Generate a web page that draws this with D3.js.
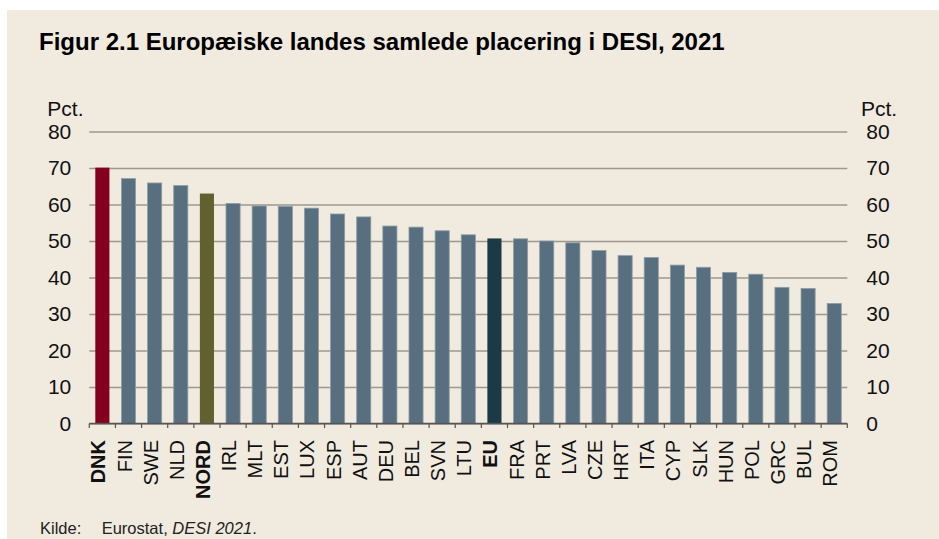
<!DOCTYPE html>
<html>
<head>
<meta charset="utf-8">
<script src="https://cdn.jsdelivr.net/npm/d3@7"></script>
<style>
  body { margin: 0; background: #fff; }
  svg { display: block; font-family: "Liberation Sans", Arial, sans-serif; }
</style>
</head>
<body>
<div id="chart"></div>
<script>
// DESI 2021, samlet score (pct.)
const countries = ["DNK", "FIN", "SWE", "NLD", "NORD", "IRL", "MLT", "EST", "LUX", "ESP",
  "AUT", "DEU", "BEL", "SVN", "LTU", "EU", "FRA", "PRT", "LVA", "CZE",
  "HRT", "ITA", "CYP", "SLK", "HUN", "POL", "GRC", "BUL", "ROM"];
const scores = [70.1, 67.1, 65.9, 65.2, 63.0, 60.3, 59.6, 59.5, 59.0, 57.4,
  56.6, 54.1, 53.8, 52.8, 51.7, 50.7, 50.6, 50.0, 49.5, 47.4,
  46.0, 45.5, 43.4, 42.8, 41.4, 40.9, 37.3, 37.0, 32.9];
const highlight = { DNK: "#85001f", NORD: "#636030", EU: "#1c3a45" };
const yTicks = [0, 10, 20, 30, 40, 50, 60, 70, 80];

const W = 939, H = 539;
const margin = { left: 89.3, right: 939 - 847.3, top: 131.5, bottom: 539 - 423.5 };

const svg = d3.select("#chart").append("svg")
  .attr("width", W)
  .attr("height", H);

// beige panel
svg.append("rect")
  .attr("x", 7).attr("y", 10)
  .attr("width", W - 7).attr("height", H - 10)
  .attr("fill", "#f0eadf");

svg.append("text")
  .attr("x", 39).attr("y", 49.5)
  .attr("font-size", 24)
  .attr("font-weight", "bold")
  .text("Figur 2.1 Europæiske landes samlede placering i DESI, 2021");

const x = d3.scaleBand()
  .domain(countries)
  .range([margin.left, W - margin.right])
  .paddingInner(0.46)
  .paddingOuter(0.23);

const y = d3.scaleLinear()
  .domain([0, 80])
  .range([H - margin.bottom, margin.top]);

// gridlines + left labels
const left = svg.append("g")
  .attr("transform", `translate(${margin.left},0)`)
  .call(d3.axisLeft(y).tickValues(yTicks).tickSize(-(W - margin.left - margin.right)).tickPadding(18));
left.select(".domain").remove();
left.selectAll(".tick line")
  .attr("stroke", "#9c988f")
  .attr("stroke-width", 1.3);
left.selectAll(".tick text")
  .attr("font-size", 21)
  .attr("fill", "#111")
  .attr("font-family", "Liberation Sans, Arial, sans-serif");

const right = svg.append("g")
  .attr("transform", `translate(${W - margin.right},0)`)
  .call(d3.axisRight(y).tickValues(yTicks).tickSize(0).tickPadding(19));
right.select(".domain").remove();
right.selectAll(".tick text")
  .attr("font-size", 21)
  .attr("fill", "#111")
  .attr("font-family", "Liberation Sans, Arial, sans-serif");

svg.append("text").attr("x", 47.3).attr("y", 116)
  .attr("font-size", 21).attr("fill", "#111").text("Pct.");
svg.append("text").attr("x", 861).attr("y", 116)
  .attr("font-size", 21).attr("fill", "#111").text("Pct.");

// bars
svg.append("g")
  .selectAll("rect")
  .data(countries)
  .join("rect")
  .attr("x", d => x(d))
  .attr("width", x.bandwidth())
  .attr("y", (d, i) => y(scores[i]))
  .attr("height", (d, i) => y(0) - y(scores[i]))
  .attr("fill", d => highlight[d] || "#586f80")
  .attr("stroke", d => highlight[d] ? "none" : "#8f9ea6")
  .attr("stroke-width", 0.8);

// x axis with ticks between categories
const x0 = margin.left, x1 = W - margin.right;
const base = y(0);
const xa = svg.append("g");
xa.append("line")
  .attr("x1", x0).attr("x2", x1)
  .attr("y1", base).attr("y2", base)
  .attr("stroke", "#555").attr("stroke-width", 1.3);
xa.selectAll(".sep")
  .data(d3.range(countries.length + 1))
  .join("line")
  .attr("x1", i => x0 + i * (x1 - x0) / countries.length)
  .attr("x2", i => x0 + i * (x1 - x0) / countries.length)
  .attr("y1", base).attr("y2", base + 4.5)
  .attr("stroke", "#555").attr("stroke-width", 1.2);

xa.selectAll(".lab")
  .data(countries)
  .join("text")
  .attr("transform", d => `translate(${x(d) + x.bandwidth() / 2 + 3},${base + 16.5}) rotate(-90)`)
  .attr("text-anchor", "end")
  .attr("font-size", 20)
  .attr("font-weight", d => highlight[d] ? "bold" : "normal")
  .attr("fill", "#111")
  .text(d => d);

// source
const src = svg.append("text").attr("x", 40).attr("y", 534).attr("font-size", 16.5).attr("fill", "#222");
src.append("tspan").text("Kilde:");
src.append("tspan").attr("x", 101.7).text("Eurostat, ");
src.append("tspan").attr("font-style", "italic").text("DESI 2021");
src.append("tspan").text(".");
</script>
</body>
</html>
